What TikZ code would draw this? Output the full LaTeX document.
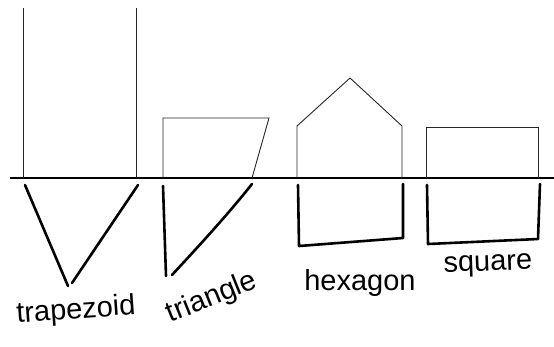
\documentclass[tikz,border=0pt]{standalone}
\usepackage{fontspec}
\setmainfont{Liberation Sans}
\begin{document}
\begin{tikzpicture}[x=1pt,y=-1pt,
  thinline/.style={line width=0.9pt,black!85},
  thickline/.style={line width=2.6pt,line cap=round,line join=round},
  basel/.style={line width=1.6pt},
  lbl/.style={font=\fontsize{29}{32}\selectfont,inner sep=0pt}]
\useasboundingbox (0,0) rectangle (554,346);
% ground line
\draw[basel] (10,178) -- (554,178);
% trapezoid
\draw[thinline] (23,8) -- (23,178);
\draw[thinline] (136,8) -- (136,178);
\draw[thickline] (25,185) -- (68,286);
\draw[thickline] (72,283) -- (138,185);
% triangle
\draw[thinline] (163,178) -- (163,118) -- (269,118) -- (252,178);
\draw[thickline] (163,186) -- (166,276);
\draw[thickline] (172,275) .. controls (195,250) and (225,218) .. (252,184);
% hexagon
\draw[thinline] (297,178) -- (297,126) -- (350,78) -- (402,126) -- (402,178);
\draw[thickline] (298,185) -- (299,246) -- (403,238) -- (403,184);
% square
\draw[thinline] (426,178) -- (426,127) -- (538,127) -- (538,178);
\draw[thickline] (427,185) -- (428,244) -- (538,239) -- (540,184);
% labels
\node[lbl,rotate=4] (ltrap) at (76,311) {trapezoid};
\node[lbl,rotate=22] (ltri) at (212,298) {triangle};
\node[lbl] (lhex) at (360,283) {hexagon};
\node[lbl,rotate=2] (lsq) at (488,266) {square};
\end{tikzpicture}
\end{document}
